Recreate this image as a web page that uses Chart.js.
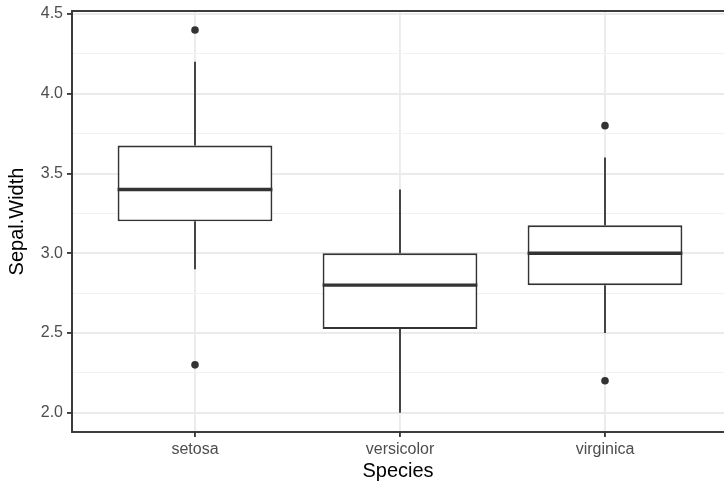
<!DOCTYPE html>
<html>
<head>
<meta charset="utf-8">
<script src="https://cdn.jsdelivr.net/npm/chart.js@4"></script>
<style>
  html, body { margin: 0; padding: 0; background: #fff; }
  #box { display: block; }
</style>
</head>
<body>
<canvas id="box" width="724" height="483"></canvas>
<script>
// Sepal width by species (iris)
const species = ["setosa", "versicolor", "virginica"];
const q1 = [3.2, 2.525, 2.8];
const medians = [3.4, 2.8, 3.0];
const q3 = [3.675, 3.0, 3.175];
const whiskerLow = [2.9, 2.0, 2.5];
const whiskerHigh = [4.2, 3.4, 3.6];
const outliers = [[4.4, 2.3], [], [3.8, 2.2]];
const yTicks = [2.0, 2.25, 2.5, 2.75, 3.0, 3.25, 3.5, 3.75, 4.0, 4.25, 4.5];

const FONT = "'Liberation Sans', Arial, Helvetica, sans-serif";
const DARK = "#333333";
const GRID = "#EBEBEB";

const isMajor = (v) => Math.abs(v * 2 - Math.round(v * 2)) < 1e-6;

const boxes = species.map((s, i) => ({ x: i + 1, y: [q1[i], q3[i]] }));
const points = [];
outliers.forEach((list, i) => {
  list.forEach((v) => points.push({ x: i + 1, y: v }));
});

// whiskers go under the boxes, medians and the panel frame on top
const boxParts = {
  id: "boxParts",
  beforeDatasetsDraw(chart) {
    const { ctx, scales } = chart;
    ctx.save();
    ctx.strokeStyle = DARK;
    ctx.lineWidth = 1.8;
    species.forEach((s, i) => {
      const x = scales.x.getPixelForValue(i + 1);
      ctx.beginPath();
      ctx.moveTo(x, scales.y.getPixelForValue(whiskerHigh[i]));
      ctx.lineTo(x, scales.y.getPixelForValue(q3[i]));
      ctx.moveTo(x, scales.y.getPixelForValue(q1[i]));
      ctx.lineTo(x, scales.y.getPixelForValue(whiskerLow[i]));
      ctx.stroke();
    });
    ctx.restore();
  },
  afterDatasetsDraw(chart) {
    const { ctx, scales, chartArea } = chart;
    const bars = chart.getDatasetMeta(0).data;
    ctx.save();
    ctx.strokeStyle = DARK;
    ctx.lineWidth = 3.4;
    bars.forEach((bar, i) => {
      const y = scales.y.getPixelForValue(medians[i]);
      ctx.beginPath();
      ctx.moveTo(bar.x - bar.width / 2, y);
      ctx.lineTo(bar.x + bar.width / 2, y);
      ctx.stroke();
    });
    ctx.lineWidth = 1.9;
    ctx.strokeRect(chartArea.left, chartArea.top,
      chartArea.right - chartArea.left + 10, chartArea.bottom - chartArea.top);
    ctx.restore();
  },
};

new Chart(document.getElementById("box"), {
  data: {
    datasets: [
      {
        type: "bar",
        data: boxes,
        backgroundColor: "#ffffff",
        borderColor: DARK,
        borderWidth: 1.9,
        borderSkipped: false,
        categoryPercentage: 0.755,
        barPercentage: 1,
      },
      {
        type: "scatter",
        data: points,
        pointRadius: 3.8,
        pointBackgroundColor: DARK,
        pointBorderWidth: 0,
      },
    ],
  },
  options: {
    responsive: false,
    animation: false,
    layout: {
      autoPadding: false,
      padding: { top: 11, right: 0, left: 0, bottom: 0 },
    },
    plugins: {
      legend: { display: false },
      tooltip: { enabled: false },
    },
    scales: {
      x: {
        type: "linear",
        min: 0.4,
        max: 3.5805,
        offset: false,
        afterBuildTicks: (scale) => {
          scale.ticks = species.map((s, i) => ({ value: i + 1 }));
        },
        afterFit: (scale) => {
          scale.height = 51;
          scale.paddingLeft = 0;
          scale.paddingRight = 0;
        },
        grid: {
          offset: false,
          color: GRID,
          lineWidth: 1.9,
          tickColor: DARK,
          tickLength: 5,
          tickWidth: 1.8,
        },
        border: { display: false },
        ticks: {
          autoSkip: false,
          maxRotation: 0,
          padding: 3,
          color: "#4D4D4D",
          font: { family: FONT, size: 16 },
          callback: (v) => species[Math.round(v) - 1],
        },
        title: {
          display: true,
          text: "Species",
          color: "#000000",
          font: { family: FONT, size: 20 },
          padding: { top: 0, bottom: 0 },
        },
      },
      y: {
        type: "linear",
        min: 1.879,
        max: 4.519,
        beginAtZero: false,
        afterBuildTicks: (scale) => {
          scale.ticks = yTicks.map((v) => ({ value: v }));
        },
        afterFit: (scale) => {
          scale.width = 72;
          scale.paddingTop = 0;
          scale.paddingBottom = 0;
        },
        grid: {
          color: (c) => (isMajor(c.tick.value) ? GRID : "#F2F2F2"),
          lineWidth: (c) => (isMajor(c.tick.value) ? 1.9 : 1),
          tickColor: (c) => (isMajor(c.tick.value) ? DARK : "rgba(0,0,0,0)"),
          tickLength: 5,
          tickWidth: 1.8,
        },
        border: { display: false },
        ticks: {
          autoSkip: false,
          padding: 4,
          color: "#4D4D4D",
          font: { family: FONT, size: 16 },
          callback: (v) => (isMajor(v) ? v.toFixed(1) : ""),
        },
        title: {
          display: true,
          text: "Sepal.Width",
          color: "#000000",
          font: { family: FONT, size: 20 },
          padding: { top: 5, bottom: 0 },
        },
      },
    },
  },
  plugins: [boxParts],
});
</script>
</body>
</html>
